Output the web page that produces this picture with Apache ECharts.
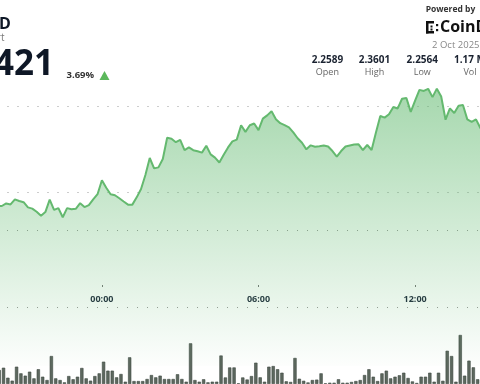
<!DOCTYPE html>
<html>
<head>
<meta charset="utf-8">
<script src="https://cdn.jsdelivr.net/npm/echarts@6/dist/echarts.min.js"></script>
<style>
html,body{margin:0;padding:0;background:#fff;}
#chart{width:480px;height:384px;}
</style>
</head>
<body>
<div id="chart"></div>
<script>
// ---- data ----
const times = [
'20:00','20:10','20:20','20:30','20:40','20:50','21:00','21:10','21:20','21:30','21:40','21:50',
'22:00','22:10','22:20','22:30','22:40','22:50','23:00','23:10','23:20','23:30','23:40','23:50',
'00:00','00:10','00:20','00:30','00:40','00:50','01:00','01:10','01:20','01:30','01:40','01:50',
'02:00','02:10','02:20','02:30','02:40','02:50','03:00','03:10','03:20','03:30','03:40','03:50',
'04:00','04:10','04:20','04:30','04:40','04:50','05:00','05:10','05:20','05:30','05:40','05:50',
'06:00','06:10','06:20','06:30','06:40','06:50','07:00','07:10','07:20','07:30','07:40','07:50',
'08:00','08:10','08:20','08:30','08:40','08:50','09:00','09:10','09:20','09:30','09:40','09:50',
'10:00','10:10','10:20','10:30','10:40','10:50','11:00','11:10','11:20','11:30','11:40','11:50',
'12:00','12:10','12:20','12:30','12:40','12:50','13:00','13:10','13:20','13:30','13:40','13:50',
'14:00','14:10','14:20','14:30','14:40'
];
const timeLabels = ['00:00','06:00','12:00'];

const prices = [
2.2923,2.2923,2.2938,2.2932,2.2961,2.2952,2.2945,2.2915,2.2908,2.2890,2.2867,2.2888,
2.2960,2.2901,2.2911,2.2858,2.2911,2.2904,2.2907,2.2939,2.2917,2.2928,2.2961,2.2991,
2.3072,2.3028,2.2991,2.2985,2.2968,2.2949,2.2931,2.2931,2.2973,2.3021,2.3102,2.3200,
2.3140,2.3146,2.3194,2.3317,2.3311,2.3291,2.3304,2.3246,2.3261,2.3245,2.3239,2.3231,
2.3271,2.3221,2.3202,2.3174,2.3219,2.3261,2.3296,2.3306,2.3389,2.3351,2.3389,2.3399,
2.3361,2.3427,2.3446,2.3470,2.3424,2.3401,2.3390,2.3377,2.3348,2.3314,2.3288,2.3250,
2.3273,2.3265,2.3268,2.3272,2.3266,2.3240,2.3208,2.3240,2.3266,2.3272,2.3278,2.3279,
2.3246,2.3275,2.3246,2.3347,2.3442,2.3433,2.3452,2.3494,2.3486,2.3542,2.3546,2.3466,
2.3531,2.3593,2.3587,2.3599,2.3551,2.3600,2.3555,2.3421,2.3486,2.3460,2.3502,2.3506,
2.3423,2.3409,2.3423,2.3373,2.3362
];

const volumesK = [
10.9,12.7,4.9,2.6,13.5,8.3,6.5,9.6,4.4,11.5,5.7,3.1,
21.8,4.4,3.1,1.3,6.2,3.7,5.7,12.5,4.4,2.6,6.2,8.3,
17.4,10.4,10.4,5.2,7.8,1.8,20.8,2.3,2.3,2.3,3.9,7.0,
5.2,6.5,3.9,3.9,3.9,7.6,3.9,1.8,31.7,3.1,1.8,3.7,
1.3,1.8,1.8,22.2,5.1,12.9,12.9,0.5,5.1,3.5,6.2,16.6,
5.2,1.8,13.5,14.0,11.5,8.8,2.1,1.6,20.3,4.1,2.5,1.2,
3.1,3.4,8.3,0.5,1.0,1.0,3.7,1.0,1.0,1.6,2.3,3.1,
7.0,11.5,5.7,2.3,8.3,10.4,4.4,5.7,6.8,8.8,4.7,2.0,
0.8,5.7,5.7,8.8,1.8,8.8,2.5,25.9,21.8,1.8,38.2,6.5,
18.2,13.0,3.7,10.9,6.2
];

const statValues = ['2.2589','2.3601','2.2564','1.17 M'];
const statLabels = ['Open','High','Low','Vol'];
const changePct = '3.69%';
const priceTail = '421';
const dateText = '2 Oct 2025';

// ---- chart ----
const FONT = '"Open Sans", "Noto Sans", sans-serif';
const statX = [327.4, 374.5, 422.3, 470];
const grid = '#9a9a9a';
const step = 4.35;

const graphics = [
  {type:'text', x:-1, y:24, style:{text:'D', font:'bold 16px ' + FONT, fill:'#0e1726', textAlign:'left', textVerticalAlign:'middle'}},
  {type:'text', x:4.5, y:38, style:{text:'rt', font:'10px ' + FONT, fill:'#777', textAlign:'right', textVerticalAlign:'middle'}},
  {type:'text', x:54, y:65.5, style:{text:priceTail, font:'bold 35px ' + FONT, fill:'#0e1726', textAlign:'right', textVerticalAlign:'middle'}},
  {type:'text', x:66.5, y:75, style:{text:changePct, font:'bold 9.5px ' + FONT, fill:'#333', textAlign:'left', textVerticalAlign:'middle'}},
  {type:'polygon', shape:{points:[[99.5,80],[109.5,80],[104.5,71]]}, style:{fill:'#5cb85c'}},
  {type:'text', x:425.7, y:10, style:{text:'Powered by', font:'bold 8.5px ' + FONT, fill:'#333', textAlign:'left', textVerticalAlign:'middle'}},
  {type:'rect', shape:{x:426, y:21, width:2.5, height:12.5}, style:{fill:'#111'}},
  {type:'rect', shape:{x:426, y:21, width:8, height:2.5}, style:{fill:'#111'}},
  {type:'rect', shape:{x:426, y:31, width:8, height:2.5}, style:{fill:'#111'}},
  {type:'rect', shape:{x:430.5, y:25.5, width:2, height:2}, style:{fill:'#111'}},
  {type:'rect', shape:{x:430.5, y:28.5, width:2, height:2}, style:{fill:'#111'}},
  {type:'rect', shape:{x:436, y:24, width:2.2, height:2.2}, style:{fill:'#111'}},
  {type:'rect', shape:{x:436, y:29, width:2.2, height:2.2}, style:{fill:'#111'}},
  {type:'text', x:440, y:27.5, style:{text:'CoinDesk', font:'bold 16px ' + FONT, fill:'#111', textAlign:'left', textVerticalAlign:'middle'}},
  {type:'text', x:479.5, y:45.5, style:{text:dateText, font:'9.5px ' + FONT, fill:'#888', textAlign:'right', textVerticalAlign:'middle'}}
];
statValues.forEach((v, i) => {
  graphics.push({type:'text', x:statX[i], y:60.5, style:{text:v, font:'bold 10px ' + FONT, fill:'#1a2230', textAlign:'center', textVerticalAlign:'middle'}});
  graphics.push({type:'text', x:statX[i], y:72.5, style:{text:statLabels[i], font:'9px ' + FONT, fill:'#666', textAlign:'center', textVerticalAlign:'middle'}});
});

const chart = echarts.init(document.getElementById('chart'), null, {renderer:'canvas'});
const showTime = (idx, val) => timeLabels.indexOf(val) >= 0;

chart.setOption({
  animation: false,
  backgroundColor: '#fff',
  textStyle: {fontFamily: FONT},
  grid: [
    {left:-2.5, top:19.33, width:step*(times.length-1), height:346.67, outerBoundsMode:'none', containLabel:false},
    {left:-3.0, top:230, width:step*times.length, height:154, outerBoundsMode:'none', containLabel:false}
  ],
  xAxis: [
    {type:'category', gridIndex:0, data:times, boundaryGap:false, position:'bottom', offset:-81,
     axisLine:{show:false, onZero:false},
     axisTick:{show:true, interval:showTime, length:2, lineStyle:{color:'#777', width:1}},
     axisLabel:{show:true, interval:showTime, margin:10, color:'#1f2a3c', fontSize:9, fontWeight:'bold', fontFamily:FONT},
     splitLine:{show:false}},
    {type:'category', gridIndex:1, data:times, boundaryGap:true, show:false}
  ],
  yAxis: [
    {type:'value', gridIndex:0, min:2.20, max:2.40, interval:0.05,
     axisLine:{show:false}, axisTick:{show:false}, axisLabel:{show:false},
     splitLine:{show:true, lineStyle:{color:['transparent','transparent',grid,grid,'transparent'], type:[1,9], width:1}}},
    {type:'value', gridIndex:1, min:0, max:120, interval:60,
     axisLine:{show:false}, axisTick:{show:false}, axisLabel:{show:false},
     splitLine:{show:true, lineStyle:{color:['transparent',grid,grid], type:[1,9], width:1}}}
  ],
  series: [
    {type:'line', xAxisIndex:0, yAxisIndex:0, data:prices, symbol:'none', smooth:false,
     lineStyle:{color:'#64b96f', width:2},
     areaStyle:{color:new echarts.graphic.LinearGradient(0,0,0,1,[
       {offset:0, color:'rgba(85,180,100,0.75)'},
       {offset:1, color:'rgba(85,180,100,0.02)'}
     ])}},
    {type:'bar', xAxisIndex:1, yAxisIndex:1, data:volumesK, barCategoryGap:'25%',
     itemStyle:{color:'#5d685f', borderColor:'#3d4640', borderWidth:0.6}}
  ],
  graphic: graphics
});
</script>
</body>
</html>
